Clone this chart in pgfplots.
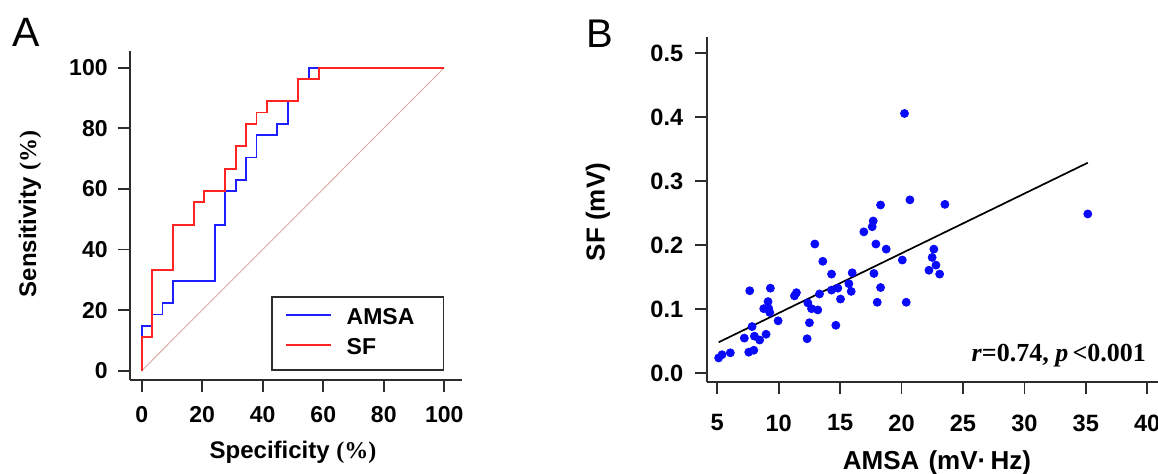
\documentclass[border=0pt]{standalone}
\usepackage{fontspec}
\setmainfont{Liberation Sans}
\newfontfamily\timesfont{Liberation Serif}
\usepackage{pgfplots}
\pgfplotsset{compat=1.18}

\definecolor{rocblue}{RGB}{30,30,255}
\definecolor{rocred}{RGB}{255,35,35}
\definecolor{diag}{RGB}{220,172,164}
\definecolor{dotblue}{RGB}{10,10,250}
\definecolor{axgray}{RGB}{45,45,45}

\newcommand\tickfont{\fontsize{11.5}{13}\selectfont\bfseries}

\pgfplotsset{
  rstyle/.style={
    scale only axis,
    axis x line=bottom, axis y line=left,
    axis line style={axgray, line width=0.9pt, -},
    tick align=outside,
    major tick length=6pt,
    tick style={axgray, line width=0.9pt},
    tick label style={font=\tickfont, inner sep=0pt, text depth=0pt},
    /pgf/number format/assume math mode=true,
    clip=false,
  }
}

\begin{document}
\begin{tikzpicture}

% ---- panel A: ROC curves
\begin{axis}[rstyle,
  at={(65pt,-190pt)}, anchor=south west,
  width=166pt, height=164.5pt,
  xmin=-3.87, xmax=105.85, ymin=-3.07, ymax=105.5,
  xtick={0,20,...,100}, ytick={0,20,...,100},
  xticklabel style={anchor=north, yshift=-7pt},
  yticklabel style={anchor=east, xshift=-5pt},
  legend image code/.code={\draw[#1, line width=0.9pt] (0pt,1.5pt) -- (22.5pt,1.5pt);},
  legend style={at={(axis cs:100,0)}, anchor=south east,
    draw=axgray, line width=0.9pt, inner xsep=6.5pt, inner ysep=4pt,
    row sep=1.5pt, font=\tickfont,
    /tikz/every odd column/.append style={column sep=5.5pt}},
  legend cell align=left,
]
\addplot[diag, line width=0.45pt, forget plot] coordinates {(0,0) (100,100)};
\addplot[rocblue, line width=0.9pt] coordinates {
  (0,0) (0,14.81) (3.45,14.81) (3.45,18.52) (6.90,18.52) (6.90,22.22)
  (10.34,22.22) (10.34,29.63) (24.14,29.63) (24.14,48.15) (27.59,48.15)
  (27.59,59.26) (31.03,59.26) (31.03,62.96) (34.48,62.96) (34.48,70.37)
  (37.93,70.37) (37.93,77.78) (44.83,77.78) (44.83,81.48) (48.28,81.48)
  (48.28,88.89) (51.72,88.89) (51.72,96.30) (55.17,96.30) (55.17,100)
  (100,100)};
\addlegendentry{AMSA\hspace*{6pt}}
\addplot[rocred, line width=0.9pt] coordinates {
  (0,0) (0,11.11) (3.45,11.11) (3.45,33.33) (10.34,33.33) (10.34,48.15)
  (17.24,48.15) (17.24,55.56) (20.69,55.56) (20.69,59.26) (27.59,59.26)
  (27.59,66.67) (31.03,66.67) (31.03,74.07) (34.48,74.07) (34.48,81.48)
  (37.93,81.48) (37.93,85.19) (41.38,85.19) (41.38,88.89) (51.72,88.89)
  (51.72,96.30) (58.62,96.30) (58.62,100) (100,100)};
\addlegendentry{SF}
\end{axis}

% ---- panel B: scatter with regression line
\begin{axis}[rstyle,
  at={(353.35pt,-191.15pt)}, anchor=south west,
  width=236.65pt, height=172.65pt,
  xmin=4.137, xmax=42.68, ymin=-0.01406, ymax=0.5255,
  xtick={5,10,...,40}, ytick={0,0.1,...,0.5},
  tick label style={font=\fontsize{11.8}{13}\selectfont\bfseries},
  yticklabel style={anchor=east, xshift=-5.5pt,
    /pgf/number format/.cd, fixed, fixed zerofill, precision=1},
  xticklabel style={anchor=north, yshift=-10pt},
]
\addplot[only marks, mark=*, mark size=2pt, dotblue] coordinates {
  (5.11,0.024) (5.38,0.029) (6.06,0.032) (7.20,0.055) (7.64,0.129)
  (7.56,0.033) (7.97,0.036) (7.83,0.073) (8.02,0.058) (8.45,0.052)
  (8.97,0.061) (8.78,0.101) (9.13,0.112) (9.19,0.101) (9.27,0.095)
  (9.32,0.133) (9.95,0.082) (11.28,0.121) (11.44,0.126) (12.31,0.054)
  (12.37,0.110) (12.50,0.079) (12.67,0.101) (12.94,0.202) (13.18,0.099)
  (13.32,0.124) (13.59,0.175) (14.30,0.155) (14.30,0.130) (14.65,0.075)
  (14.81,0.133) (15.03,0.116) (15.71,0.140) (15.90,0.128) (15.98,0.157)
  (16.93,0.221) (17.61,0.229) (17.69,0.238) (17.75,0.156) (17.91,0.202)
  (18.02,0.111) (18.29,0.134) (18.29,0.263) (18.75,0.194) (20.06,0.177)
  (20.24,0.406) (20.68,0.271) (23.53,0.264) (22.63,0.194) (22.49,0.181)
  (22.80,0.169) (22.23,0.161) (23.10,0.155) (20.38,0.111) (35.16,0.249)};
\addplot[black, line width=0.85pt] coordinates {(5.11,0.0485) (35.16,0.329)};
\end{axis}

% ---- labels, placed in pixel units of the reference
\begin{scope}[x=0.5pt, y=-0.5pt]
\node[font=\fontsize{20.5}{22}\selectfont] at (26,32) {A};
\node[font=\fontsize{20}{22}\selectfont] at (600,34) {B};
\node[rotate=90, font=\fontsize{12}{14}\selectfont] at (30,214)
  {\bfseries Sensitivity {\timesfont(\%)}};
\node[anchor=base, font=\fontsize{12}{14}\selectfont] at (293,459)
  {\bfseries Specificity {\timesfont(\%)}};
\node[rotate=90, font=\fontsize{13}{15}\selectfont\bfseries] at (598,212) {SF (mV)};
\node[anchor=base, font=\fontsize{13}{15}\selectfont\bfseries] at (937,470)
  {AMSA\hspace{0.35em}(mV·\,Hz)};
\node[anchor=base east, font=\timesfont\fontsize{13}{15}\selectfont\bfseries]
  at (1153,362) {\textit{r}=0.74, \textit{p}\,<0.001};
\end{scope}

\pgfresetboundingbox
\path[use as bounding box] (0,0) rectangle (579pt,-237pt);
\end{tikzpicture}
\end{document}
